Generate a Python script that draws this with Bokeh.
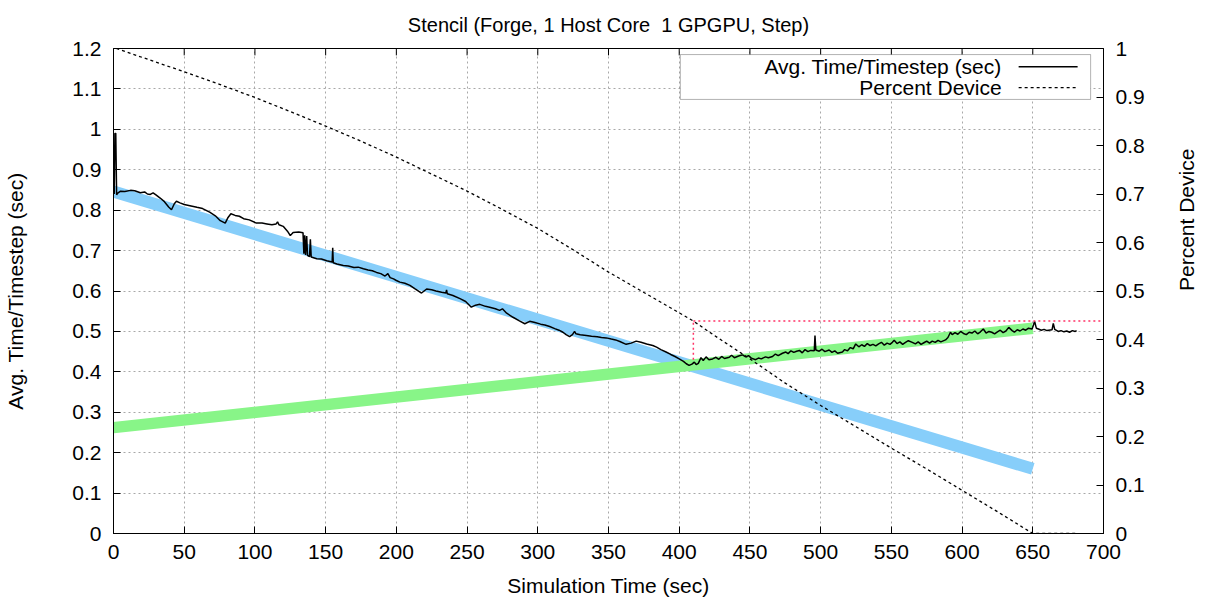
import math
from bokeh.plotting import figure
from bokeh.models import Range1d, LinearAxis, FixedTicker, BoxAnnotation, Label, Arrow
from bokeh.embed import file_html
from bokeh.resources import INLINE

# ---- measured average time per timestep (seconds) ----
avg_t = [0.5, 1.0, 1.6, 2.2, 3, 5, 8, 12, 15, 19, 22, 24, 26, 28, 30, 33, 36, 39, 41, 43,
         44.5, 47, 50, 54, 59, 63, 68, 72, 75.5, 79, 81, 83, 86, 89, 92, 96, 101, 105, 108.5, 112,
         115, 116, 117, 120, 123, 125, 127, 131, 134, 134.6, 135.2, 135.8, 136.6, 137.2, 138.6, 139.2, 139.8, 143.7, 147, 150.8,
         154.6, 155, 155.4, 158, 162.5, 166, 170, 173, 176.7, 180, 183, 186, 189, 192, 194, 195.6, 198, 200,
         202.5, 206, 209.6, 213, 217.8, 221.4, 225, 228, 232, 235, 235.5, 236, 240, 245, 249, 253, 256, 259,
         263, 266, 270, 273, 275, 278, 282.5, 287, 290.8, 294.3, 298, 302, 305, 308.4, 312, 315, 317.8, 320,
         322.5, 324.5, 326, 327, 330, 334.3, 338, 342, 345, 348.4, 352, 355, 358, 362.5, 366, 369.6, 373, 377,
         381.3, 384, 387, 390.7, 394, 397, 400, 403, 405, 407, 409, 410.7, 412, 413.5,
         415.4, 417, 419, 421, 423.6, 426, 428, 430, 432, 435.4, 437, 439, 442, 444.8, 447, 449, 451, 454,
         456, 458, 461, 463, 466, 468, 470, 473, 475.4, 477, 479, 481, 483, 485, 487, 489, 491, 493,
         495.5, 496, 496.6, 499, 501, 503, 506, 508, 510, 512, 515.4, 517, 519, 521, 523, 524.8, 527, 529,
         531, 533, 535, 537, 539, 541, 543, 545, 547, 549, 550.7, 552, 554, 556, 558, 560, 562, 564.8,
         567, 569, 571, 573, 575, 577, 578.9, 581, 583, 585, 588.3, 590, 591.8, 593, 595, 597, 599, 601,
         603, 605, 607, 609, 611, 613, 615, 617, 619, 621, 623, 625, 627, 629, 631, 633, 635.4, 637,
         639, 641, 643, 645, 647, 649.5, 650.5, 651.3, 652.5, 654, 656, 658, 660, 663.6, 664.5, 665.5, 668, 670,
         672, 674, 676, 678, 680, 681]
avg_v = [0.840, 0.990, 0.990, 0.838, 0.842, 0.847, 0.846, 0.849, 0.848, 0.843, 0.845, 0.840, 0.839, 0.843, 0.838, 0.830, 0.821, 0.808, 0.801, 0.816,
         0.822, 0.818, 0.814, 0.811, 0.807, 0.804, 0.795, 0.786, 0.774, 0.768, 0.782, 0.791, 0.787, 0.785, 0.779, 0.776, 0.768, 0.768, 0.766, 0.764,
         0.766, 0.771, 0.764, 0.760, 0.748, 0.737, 0.745, 0.746, 0.744, 0.692, 0.738, 0.689, 0.736, 0.688, 0.685, 0.728, 0.684, 0.680, 0.679, 0.675,
         0.672, 0.707, 0.670, 0.667, 0.663, 0.662, 0.658, 0.659, 0.655, 0.652, 0.650, 0.646, 0.643, 0.637, 0.643, 0.633, 0.630, 0.626,
         0.622, 0.619, 0.614, 0.606, 0.595, 0.605, 0.603, 0.600, 0.597, 0.595, 0.603, 0.593, 0.589, 0.581, 0.574, 0.560, 0.565, 0.567,
         0.562, 0.560, 0.556, 0.552, 0.556, 0.545, 0.535, 0.526, 0.519, 0.525, 0.522, 0.518, 0.516, 0.512, 0.507, 0.503, 0.498, 0.492,
         0.487, 0.492, 0.500, 0.494, 0.492, 0.490, 0.488, 0.487, 0.485, 0.484, 0.481, 0.479, 0.475, 0.468, 0.471, 0.476, 0.473, 0.469,
         0.465, 0.461, 0.455, 0.449, 0.443, 0.438, 0.432, 0.426, 0.420, 0.416, 0.419, 0.424, 0.418, 0.421,
         0.435, 0.428, 0.437, 0.430, 0.432, 0.436, 0.431, 0.438, 0.433, 0.436, 0.441, 0.435, 0.439, 0.442, 0.437, 0.440, 0.434, 0.430,
         0.434, 0.432, 0.437, 0.435, 0.438, 0.444, 0.440, 0.446, 0.449, 0.445, 0.452, 0.448, 0.451, 0.453, 0.447, 0.455, 0.450, 0.453,
         0.452, 0.490, 0.454, 0.451, 0.456, 0.450, 0.454, 0.448, 0.452, 0.446, 0.449, 0.455, 0.452, 0.460, 0.457, 0.469, 0.462, 0.467,
         0.463, 0.470, 0.465, 0.468, 0.464, 0.469, 0.473, 0.466, 0.471, 0.468, 0.473, 0.478, 0.470, 0.474, 0.468, 0.473, 0.477, 0.473,
         0.469, 0.474, 0.468, 0.472, 0.476, 0.471, 0.476, 0.473, 0.478, 0.474, 0.479, 0.485, 0.498, 0.492, 0.497, 0.493, 0.500, 0.495,
         0.492, 0.498, 0.496, 0.501, 0.494, 0.499, 0.506, 0.496, 0.500, 0.498, 0.494, 0.499, 0.503, 0.497, 0.501, 0.510, 0.502, 0.498,
         0.504, 0.501, 0.506, 0.503, 0.508, 0.506, 0.516, 0.525, 0.508, 0.506, 0.503, 0.505, 0.502, 0.504, 0.520, 0.505, 0.500, 0.502,
         0.499, 0.501, 0.498, 0.502, 0.500, 0.502]

# ---- fraction of work on the device (right axis) ----
pct_t = [2, 25, 50, 75, 100, 125, 150, 175, 200, 225, 250, 275, 300, 325, 350, 375, 400, 410,
         425, 450, 475, 500, 525, 550, 575, 600, 625, 650, 680]
pct_v = [1.000, 0.977, 0.952, 0.926, 0.899, 0.870, 0.840, 0.809, 0.776, 0.741, 0.706, 0.668, 0.629, 0.585, 0.539, 0.497, 0.455, 0.438,
         0.408, 0.360, 0.310, 0.264, 0.220, 0.176, 0.133, 0.089, 0.045, 0.000, 0.000]

# ---- linear trends before / after the switch ----
host_fit_t = [0, 650]
host_fit_v = [0.846, 0.160]
device_fit_t = [0, 650]
device_fit_v = [0.262, 0.508]

# ---- switch point marker ----
switch_t = 410
switch_low = 0.358     # bottom of the marker, right-axis units
switch_pct = 0.438
marker_end_t = 700

# ---- ticks ----
x_ticks = [0, 50, 100, 150, 200, 250, 300, 350, 400, 450, 500, 550, 600, 650, 700]
left_ticks = [0, 0.1, 0.2, 0.3, 0.4, 0.5, 0.6, 0.7, 0.8, 0.9, 1.0, 1.1, 1.2]
left_labels = ["0", "0.1", "0.2", "0.3", "0.4", "0.5", "0.6", "0.7", "0.8", "0.9", "1", "1.1", "1.2"]
right_ticks = [0, 0.1, 0.2, 0.3, 0.4, 0.5, 0.6, 0.7, 0.8, 0.9, 1.0]
right_labels = ["0", "0.1", "0.2", "0.3", "0.4", "0.5", "0.6", "0.7", "0.8", "0.9", "1"]

FONT = "Liberation Sans"
FS = "21px"
Y_TOP = 1.2
TOP_TICK_LEN = 0.017   # inward mirror ticks on the top edge, in left-axis units
# two spaces between "Core" and "1" are kept with a no-break space
TITLE = "Stencil (Forge, 1 Host Core\u00a0 1 GPGPU, Step)"

p = figure(width=1212, height=604, output_backend="svg", toolbar_location=None,
           x_range=Range1d(0, 700), y_range=Range1d(0, Y_TOP),
           min_border_left=113, min_border_right=107, min_border_top=48, min_border_bottom=71,
           title=TITLE)
p.extra_y_ranges = {"pct": Range1d(0, 1)}

p.background_fill_color = "white"
p.border_fill_color = "white"
p.outline_line_color = "black"
p.outline_line_width = 1

p.title.align = "center"
p.title.vertical_align = "top"
p.title.text_font = FONT
p.title.text_font_size = "20px"
p.title.text_font_style = "normal"
p.title.text_color = "black"
p.title.standoff = 22


def style_axis(ax):
    ax.axis_line_color = "black"
    ax.major_tick_in = 7
    ax.major_tick_out = 0
    ax.minor_tick_in = 0
    ax.minor_tick_out = 0
    ax.major_tick_line_color = "black"
    ax.major_label_text_font = FONT
    ax.major_label_text_font_size = FS
    ax.major_label_text_color = "black"
    ax.axis_label_text_font = FONT
    ax.axis_label_text_font_size = FS
    ax.axis_label_text_font_style = "normal"
    ax.axis_label_text_color = "black"


xa = p.xaxis[0]
xa.ticker = FixedTicker(ticks=x_ticks)
xa.axis_label = "Simulation Time (sec)"
style_axis(xa)
xa.major_label_standoff = 11
xa.axis_label_standoff = 12

ya = p.yaxis[0]
ya.ticker = FixedTicker(ticks=left_ticks)
ya.major_label_overrides = dict(zip(left_ticks, left_labels))
ya.axis_label = "Avg. Time/Timestep (sec)"
style_axis(ya)
ya.major_label_standoff = 12
ya.axis_label_standoff = 42

ra = LinearAxis(y_range_name="pct", ticker=FixedTicker(ticks=right_ticks))
ra.major_label_overrides = dict(zip(right_ticks, right_labels))
style_axis(ra)
ra.major_label_standoff = 12
p.add_layout(ra, "right")

# right-hand axis title reads bottom-to-top
ra.axis_label = "Percent Device"
ra.axis_label_orientation = math.pi / 2
ra.axis_label_standoff = 39

for g in (p.xgrid[0], p.ygrid[0]):
    g.grid_line_color = "#a8a8a8"
    g.grid_line_dash = "2 3"
    g.grid_line_width = 1
p.xgrid[0].ticker = FixedTicker(ticks=x_ticks)
p.ygrid[0].ticker = FixedTicker(ticks=left_ticks)

# mirror ticks along the top edge
p.segment(x0=x_ticks, y0=[Y_TOP] * len(x_ticks), x1=x_ticks,
          y1=[Y_TOP - TOP_TICK_LEN] * len(x_ticks), line_color="black", line_width=1)

# trend bands
p.line(host_fit_t, host_fit_v, line_color="#87cefa", line_width=12)
p.line(device_fit_t, device_fit_v, line_color="#88f588", line_width=11.5)

# measurements
p.line(avg_t, avg_v, line_color="black", line_width=1.5)
p.line(pct_t, pct_v, y_range_name="pct", line_color="black", line_width=1.3, line_dash="3 3")

# switch marker
p.line([switch_t, switch_t], [switch_low, switch_pct], y_range_name="pct",
       line_color="#ff3366", line_width=1.5, line_dash="2 3")
p.line([switch_t, marker_end_t], [switch_pct, switch_pct], y_range_name="pct",
       line_color="#ff3366", line_width=1.5, line_dash="2 3")

# key box with right-aligned entries and samples on the right
p.add_layout(BoxAnnotation(left=400.8, right=690.9, bottom=1.074, top=1.185,
                           fill_color="white", fill_alpha=1.0,
                           line_color="black", line_width=1))
key_entries = ["Avg. Time/Timestep (sec)", "Percent Device"]
key_rows = [1.155, 1.103]
key_dash = ["solid", "3 3"]
for text, ky, dash in zip(key_entries, key_rows, key_dash):
    p.add_layout(Label(x=628.0, y=ky, text=text, text_align="right", text_baseline="middle",
                       text_font=FONT, text_font_size=FS, text_color="black"))
    p.add_layout(Arrow(end=None, x_start=640.0, y_start=ky, x_end=681.7, y_end=ky,
                       line_color="black", line_width=1.3 if dash != "solid" else 1.5,
                       line_dash=dash))

open("out.html", "w").write(file_html(p, INLINE))
